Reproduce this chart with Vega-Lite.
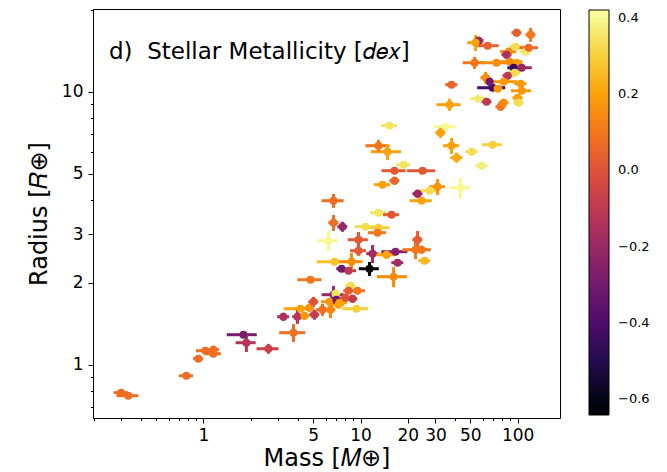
{
  "$schema": "https://vega.github.io/schema/vega-lite/v6.json",
  "width": 467,
  "height": 409,
  "autosize": "none",
  "padding": {"left": 93, "top": 9, "right": 107, "bottom": 54},
  "background": "white",
  "config": {
    "font": "DejaVu Sans",
    "view": {"stroke": "black", "strokeWidth": 1},
    "axis": {"grid": false, "domain": false, "tickColor": "black", "labelColor": "black", "titleColor": "black", "labelFontSize": 17, "titleFontSize": 24, "titleFontWeight": "normal", "labelFont": "DejaVu Sans", "titleFont": "DejaVu Sans"},
    "legend": {"gradientVerticalMaxLength": 600, "gradientVerticalMinLength": 10}
  },
  "title": {"text": "d)\u00a0\u00a0Stellar Metallicity [𝑑𝑒𝑥]", "anchor": "start", "frame": "group", "orient": "top", "offset": -81, "dx": 16, "fontSize": 23, "fontWeight": "normal", "baseline": "alphabetic", "color": "black", "font": "DejaVu Sans"},
  "data": {"values": [
    {"m": 0.300, "r": 0.790, "me": 0.031, "re": 0.020, "z": 0.08},
    {"m": 0.333, "r": 0.770, "me": 0.053, "re": 0.019, "z": 0.08},
    {"m": 0.779, "r": 0.911, "me": 0.080, "re": 0.023, "z": 0.08},
    {"m": 0.929, "r": 1.052, "me": 0.068, "re": 0.027, "z": 0.08},
    {"m": 1.030, "r": 1.125, "me": 0.135, "re": 0.028, "z": 0.08},
    {"m": 1.158, "r": 1.135, "me": 0.102, "re": 0.038, "z": 0.08},
    {"m": 1.158, "r": 1.097, "me": 0.135, "re": 0.028, "z": 0.08},
    {"m": 1.798, "r": 1.288, "me": 0.389, "re": 0.033, "z": -0.28},
    {"m": 1.878, "r": 1.204, "me": 0.274, "re": 0.091, "z": -0.12},
    {"m": 2.594, "r": 1.144, "me": 0.415, "re": 0.048, "z": -0.06},
    {"m": 3.743, "r": 1.310, "me": 0.706, "re": 0.099, "z": 0.08},
    {"m": 3.232, "r": 1.499, "me": 0.284, "re": 0.051, "z": -0.15},
    {"m": 3.969, "r": 1.499, "me": 0.291, "re": 0.088, "z": -0.12},
    {"m": 4.148, "r": 1.604, "me": 0.898, "re": 0.041, "z": 0.2},
    {"m": 4.399, "r": 1.512, "me": 0.322, "re": 0.051, "z": 0.18},
    {"m": 4.733, "r": 1.618, "me": 0.347, "re": 0.055, "z": 0.17},
    {"m": 5.019, "r": 1.701, "me": 0.368, "re": 0.072, "z": 0.0},
    {"m": 5.093, "r": 1.525, "me": 0.373, "re": 0.064, "z": -0.08},
    {"m": 4.803, "r": 2.048, "me": 0.838, "re": 0.052, "z": 0.1},
    {"m": 5.728, "r": 1.590, "me": 0.503, "re": 0.080, "z": 0.08},
    {"m": 6.442, "r": 1.590, "me": 0.472, "re": 0.107, "z": 0.14},
    {"m": 6.348, "r": 1.701, "me": 0.742, "re": 0.043, "z": 0.18},
    {"m": 6.730, "r": 1.805, "me": 1.077, "re": 0.137, "z": -0.2},
    {"m": 6.931, "r": 1.820, "me": 0.508, "re": 0.046, "z": 0.35},
    {"m": 7.034, "r": 1.730, "me": 0.516, "re": 0.058, "z": -0.3},
    {"m": 7.350, "r": 1.687, "me": 0.859, "re": 0.043, "z": 0.2},
    {"m": 8.025, "r": 1.760, "me": 0.588, "re": 0.059, "z": 0.0},
    {"m": 8.893, "r": 1.745, "me": 0.652, "re": 0.059, "z": -0.08},
    {"m": 8.636, "r": 1.947, "me": 0.633, "re": 0.049, "z": 0.33},
    {"m": 9.570, "r": 1.866, "me": 1.119, "re": 0.047, "z": 0.1},
    {"m": 8.387, "r": 1.866, "me": 0.615, "re": 0.047, "z": 0.03},
    {"m": 9.430, "r": 1.604, "me": 1.778, "re": 0.041, "z": 0.3},
    {"m": 7.243, "r": 1.659, "me": 0.636, "re": 0.042, "z": 0.2},
    {"m": 6.256, "r": 2.846, "me": 0.912, "re": 0.240, "z": 0.4},
    {"m": 6.830, "r": 2.384, "me": 1.575, "re": 0.060, "z": 0.27},
    {"m": 8.764, "r": 2.384, "me": 1.528, "re": 0.181, "z": 0.15},
    {"m": 7.568, "r": 2.247, "me": 0.555, "re": 0.057, "z": -0.3},
    {"m": 8.387, "r": 2.210, "me": 0.980, "re": 0.056, "z": -0.1},
    {"m": 11.41, "r": 2.247, "me": 1.662, "re": 0.132, "z": -0.64},
    {"m": 9.712, "r": 2.870, "me": 1.415, "re": 0.193, "z": 0.02},
    {"m": 9.712, "r": 2.616, "me": 1.135, "re": 0.110, "z": 0.02},
    {"m": 11.93, "r": 2.551, "me": 1.047, "re": 0.193, "z": -0.18},
    {"m": 14.64, "r": 2.529, "me": 2.343, "re": 0.085, "z": 0.2},
    {"m": 16.71, "r": 2.594, "me": 3.150, "re": 0.066, "z": -0.25},
    {"m": 17.21, "r": 2.364, "me": 1.511, "re": 0.060, "z": -0.18},
    {"m": 23.07, "r": 2.870, "me": 1.691, "re": 0.218, "z": 0.03},
    {"m": 22.40, "r": 2.638, "me": 3.907, "re": 0.200, "z": 0.1},
    {"m": 24.46, "r": 2.638, "me": 3.564, "re": 0.089, "z": 0.1},
    {"m": 25.56, "r": 2.404, "me": 2.244, "re": 0.061, "z": 0.25},
    {"m": 16.23, "r": 2.101, "me": 3.515, "re": 0.177, "z": 0.15},
    {"m": 7.680, "r": 3.203, "me": 0.563, "re": 0.135, "z": -0.2},
    {"m": 6.730, "r": 3.313, "me": 0.493, "re": 0.223, "z": 0.08},
    {"m": 6.730, "r": 3.988, "me": 1.077, "re": 0.235, "z": 0.08},
    {"m": 10.76, "r": 3.203, "me": 1.568, "re": 0.081, "z": 0.33},
    {"m": 13.02, "r": 3.176, "me": 2.271, "re": 0.080, "z": 0.3},
    {"m": 12.83, "r": 3.045, "me": 1.683, "re": 0.077, "z": 0.1},
    {"m": 13.02, "r": 3.604, "me": 1.522, "re": 0.091, "z": 0.35},
    {"m": 15.76, "r": 3.543, "me": 1.842, "re": 0.090, "z": 0.02},
    {"m": 23.07, "r": 4.230, "me": 1.691, "re": 0.143, "z": -0.2},
    {"m": 24.46, "r": 3.988, "me": 3.914, "re": 0.101, "z": 0.2},
    {"m": 27.51, "r": 4.339, "me": 4.008, "re": 0.110, "z": 0.33},
    {"m": 30.94, "r": 4.487, "me": 3.617, "re": 0.302, "z": 0.17},
    {"m": 43.35, "r": 4.450, "me": 6.316, "re": 0.375, "z": 0.4},
    {"m": 16.47, "r": 5.135, "me": 2.872, "re": 0.130, "z": 0.02},
    {"m": 24.83, "r": 5.135, "me": 5.031, "re": 0.130, "z": 0.02},
    {"m": 18.79, "r": 5.402, "me": 1.924, "re": 0.137, "z": 0.35},
    {"m": 16.47, "r": 4.721, "me": 1.207, "re": 0.159, "z": 0.06},
    {"m": 13.81, "r": 4.564, "me": 1.614, "re": 0.115, "z": 0.2},
    {"m": 13.02, "r": 6.342, "me": 2.271, "re": 0.320, "z": 0.1},
    {"m": 14.86, "r": 6.029, "me": 3.219, "re": 0.406, "z": 0.2},
    {"m": 15.30, "r": 7.508, "me": 1.789, "re": 0.190, "z": 0.35},
    {"m": 34.78, "r": 7.444, "me": 5.565, "re": 0.188, "z": 0.4},
    {"m": 32.32, "r": 7.076, "me": 2.369, "re": 0.299, "z": 0.2},
    {"m": 37.98, "r": 6.342, "me": 4.440, "re": 0.427, "z": 0.2},
    {"m": 50.93, "r": 6.029, "me": 4.472, "re": 0.203, "z": 0.33},
    {"m": 40.88, "r": 5.731, "me": 3.589, "re": 0.242, "z": 0.22},
    {"m": 58.98, "r": 5.356, "me": 5.178, "re": 0.180, "z": 0.37},
    {"m": 69.31, "r": 6.396, "me": 10.10, "re": 0.162, "z": 0.3},
    {"m": 36.88, "r": 8.963, "me": 6.432, "re": 0.453, "z": 0.2},
    {"m": 37.98, "r": 10.61, "me": 3.335, "re": 0.268, "z": 0.05},
    {"m": 98.54, "r": 16.45, "me": 7.223, "re": 0.554, "z": 0.04},
    {"m": 121.0, "r": 16.18, "me": 8.87, "re": 0.953, "z": 0.1},
    {"m": 56.44, "r": 15.38, "me": 4.137, "re": 0.518, "z": -0.2},
    {"m": 54.01, "r": 15.12, "me": 6.314, "re": 1.019, "z": 0.2},
    {"m": 64.42, "r": 14.74, "me": 11.23, "re": 0.373, "z": 0.04},
    {"m": 97.12, "r": 14.62, "me": 8.527, "re": 0.370, "z": 0.33},
    {"m": 112.5, "r": 14.02, "me": 9.88, "re": 0.355, "z": 0.36},
    {"m": 117.5, "r": 14.50, "me": 17.12, "re": 0.367, "z": 0.07},
    {"m": 87.64, "r": 14.02, "me": 10.25, "re": 0.472, "z": 0.15},
    {"m": 85.10, "r": 13.66, "me": 6.238, "re": 0.460, "z": -0.15},
    {"m": 53.23, "r": 12.77, "me": 8.517, "re": 0.645, "z": 0.1},
    {"m": 73.48, "r": 12.77, "me": 14.89, "re": 0.323, "z": 0.15},
    {"m": 88.92, "r": 12.88, "me": 18.02, "re": 0.326, "z": 0.15},
    {"m": 98.54, "r": 12.77, "me": 8.652, "re": 0.323, "z": 0.2},
    {"m": 94.30, "r": 12.24, "me": 8.280, "re": 0.310, "z": -0.45},
    {"m": 106.1, "r": 12.24, "me": 16.98, "re": 0.310, "z": -0.2},
    {"m": 95.70, "r": 11.74, "me": 8.402, "re": 0.297, "z": 0.33},
    {"m": 86.36, "r": 11.45, "me": 6.330, "re": 0.290, "z": -0.1},
    {"m": 62.55, "r": 11.26, "me": 4.585, "re": 0.569, "z": 0.15},
    {"m": 69.31, "r": 10.34, "me": 14.04, "re": 0.262, "z": -0.42},
    {"m": 66.31, "r": 10.88, "me": 4.861, "re": 0.367, "z": -0.3},
    {"m": 74.57, "r": 10.26, "me": 5.466, "re": 0.260, "z": 0.18},
    {"m": 81.44, "r": 10.88, "me": 17.64, "re": 0.275, "z": 0.18},
    {"m": 104.5, "r": 10.70, "me": 9.175, "re": 0.271, "z": 0.18},
    {"m": 106.1, "r": 10.08, "me": 15.46, "re": 0.255, "z": 0.18},
    {"m": 100.0, "r": 9.506, "me": 7.33, "re": 0.240, "z": 0.2},
    {"m": 101.5, "r": 9.115, "me": 7.44, "re": 0.231, "z": 0.33},
    {"m": 56.44, "r": 9.427, "me": 6.598, "re": 0.239, "z": 0.36},
    {"m": 63.46, "r": 9.192, "me": 4.652, "re": 0.233, "z": -0.1},
    {"m": 77.93, "r": 8.812, "me": 5.712, "re": 0.297, "z": 0.1},
    {"m": 81.44, "r": 9.115, "me": 5.970, "re": 0.307, "z": 0.15}
  ]},
  "encoding": {
    "x": {"field": "m", "type": "quantitative",
      "scale": {"type": "log", "domain": [0.1984, 186], "nice": false},
      "axis": {"title": "Mass [𝑀⊕]", "values": [0.2, 0.3, 0.4, 0.5, 0.6, 0.7, 0.8, 0.9, 1, 2, 3, 4, 5, 6, 7, 8, 9, 10, 20, 30, 40, 50, 60, 70, 80, 90, 100],
        "labelExpr": "indexof([1,5,10,20,30,50,100], datum.value) >= 0 ? format(datum.value, '~g') : ''",
        "tickSize": {"condition": {"test": "indexof([1,5,10,20,30,50,100], datum.value) >= 0", "value": 5}, "value": 2.5},
        "labelOverlap": false, "labelFlush": false, "labelPadding": 4, "titlePadding": 3}},
    "y": {"field": "r", "type": "quantitative",
      "scale": {"type": "log", "domain": [0.638, 20.09], "nice": false},
      "axis": {"title": "Radius [𝑅⊕]", "values": [0.7, 0.8, 0.9, 1, 2, 3, 4, 5, 6, 7, 8, 9, 10, 20],
        "labelExpr": "indexof([1,2,3,5,10], datum.value) >= 0 ? format(datum.value, '~g') : ''",
        "tickSize": {"condition": {"test": "indexof([1,2,3,5,10], datum.value) >= 0", "value": 5}, "value": 2.5},
        "labelOverlap": false, "labelFlush": false, "labelPadding": 5, "titlePadding": 10}}
  },
  "resolve": {"legend": {"color": "independent"}},
  "layer": [
    {"mark": {"type": "errorbar", "thickness": 3, "orient": "horizontal"}, "encoding": {"xError": {"field": "me"},
      "color": {"field": "z", "type": "quantitative", "scale": {"scheme": "inferno", "domain": [-0.642, 0.421]}, "legend": null}}},
    {"mark": {"type": "errorbar", "thickness": 3, "orient": "vertical"}, "encoding": {"yError": {"field": "re"},
      "color": {"field": "z", "type": "quantitative", "scale": {"scheme": "inferno", "domain": [-0.642, 0.421]}, "legend": null}}},
    {"mark": {"type": "circle", "size": 64, "opacity": 1}, "encoding": {
      "color": {"field": "z", "type": "quantitative",
        "scale": {"scheme": "inferno", "domain": [-0.642, 0.421]},
        "legend": {"type": "gradient", "orient": "none", "legendX": 496, "legendY": 1, "direction": "vertical", "gradientLength": 405, "gradientThickness": 20, "title": null, "values": [-0.6, -0.4, -0.2, 0, 0.2, 0.4], "format": ".1f", "labelFontSize": 13, "labelColor": "black", "labelOffset": 9, "gradientStrokeColor": "black", "gradientStrokeWidth": 1, "labelFont": "DejaVu Sans"}}}}
  ]
}
